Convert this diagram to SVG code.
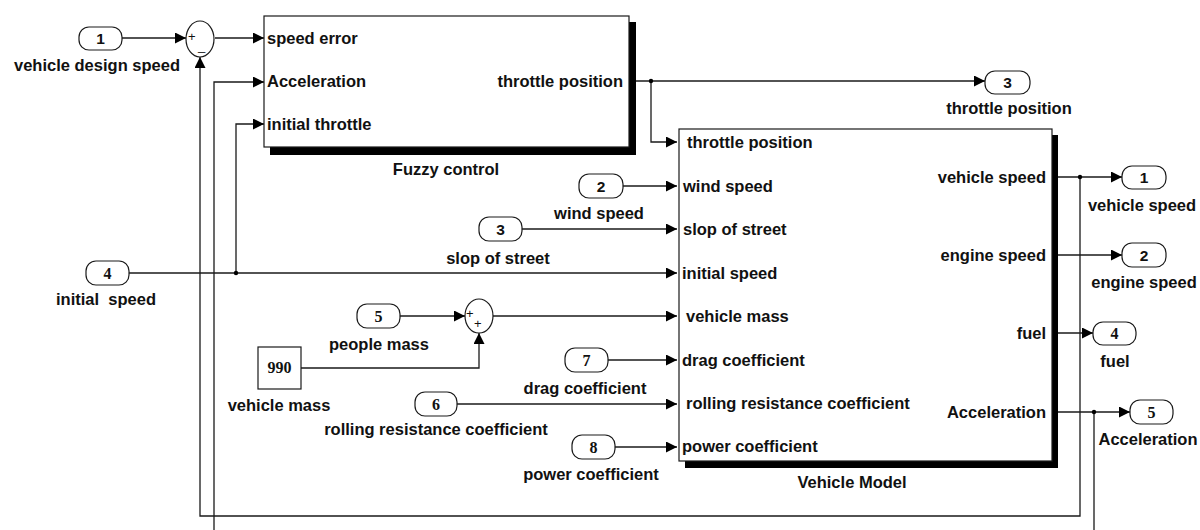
<svg xmlns="http://www.w3.org/2000/svg" width="1200" height="530" viewBox="0 0 1200 530">
<style>
.ln{stroke:#1a1a1a;stroke-width:1.3;fill:none}
.arr{marker-end:url(#ah)}
.port{fill:#fff;stroke:#1a1a1a;stroke-width:1.2}
.blk{fill:#fff;stroke:#1a1a1a;stroke-width:1.2}
.sh{fill:#000}
.t{font-family:"Liberation Sans",Arial,sans-serif;font-weight:bold;font-size:16.5px;fill:#111}
.n{font-family:"Liberation Sans",Arial,sans-serif;font-weight:bold;font-size:15.5px;fill:#111;text-anchor:middle}
.ns{font-family:"Liberation Serif","Times New Roman",serif;font-weight:bold;font-size:16px;fill:#111;text-anchor:middle}
.c{text-anchor:middle}
.r{text-anchor:end}
.sg{font-family:"Liberation Sans",Arial,sans-serif;font-size:13px;fill:#111}
</style>
<defs>
<marker id="ah" markerUnits="userSpaceOnUse" markerWidth="13" markerHeight="12" refX="11" refY="5.5" orient="auto">
<path d="M0,0 L11,5.5 L0,11 z" fill="#000"/>
</marker>
</defs>
<rect width="1200" height="530" fill="#fff"/>

<g id="connectors">
<path class="ln arr" d="M122,38 H186"/>
<path class="ln arr" d="M215,38 H264"/>
<path class="ln arr" d="M1094,412 V545 H214 V82 H264"/>
<path class="ln arr" d="M1080,177 V516 H200 V57"/>
<path class="ln arr" d="M129,273 H677"/>
<path class="ln arr" d="M236,273 V124 H264"/>
<path class="ln arr" d="M636,81 H985"/>
<path class="ln arr" d="M651,81 V142 H677"/>
<path class="ln arr" d="M623,186 H677"/>
<path class="ln arr" d="M522,229 H677"/>
<path class="ln arr" d="M400,316 H465"/>
<path class="ln arr" d="M493,316 H677"/>
<path class="ln arr" d="M301,368 H479 V333"/>
<path class="ln arr" d="M608,360 H677"/>
<path class="ln arr" d="M457,404 H677"/>
<path class="ln arr" d="M615,447 H677"/>
<path class="ln arr" d="M1058,177 H1122"/>
<path class="ln arr" d="M1058,255 H1122"/>
<path class="ln arr" d="M1058,333 H1093"/>
<path class="ln arr" d="M1058,412 H1130"/>
<circle cx="236" cy="273" r="2.2" fill="#000"/>
<circle cx="651" cy="81" r="2.2" fill="#000"/>
<circle cx="1080" cy="177" r="2.2" fill="#000"/>
<circle cx="1094" cy="412" r="2.2" fill="#000"/>
</g>

<g id="in1">
<rect class="port" x="79" y="27" width="43" height="23" rx="10"/>
<text class="n" x="100.5" y="44">1</text>
<text class="t c" x="97" y="71">vehicle design speed</text>
</g>

<g id="sum1">
<ellipse class="port" cx="200" cy="39" rx="14" ry="18"/>
<text class="sg" x="188" y="41">+</text>
<text class="sg" x="198" y="50">_</text>
</g>

<g id="fuzzy">
<rect class="sh" x="270" y="22" width="366" height="133"/>
<rect class="blk" x="264" y="16" width="365" height="131"/>
<text class="t" x="267" y="44">speed error</text>
<text class="t" x="267" y="87">Acceleration</text>
<text class="t" x="267" y="130">initial throttle</text>
<text class="t r" x="623" y="87">throttle position</text>
<text class="t c" x="446" y="175">Fuzzy control</text>
</g>

<g id="out3">
<rect class="port" x="985" y="71" width="45" height="23" rx="10"/>
<text class="n" x="1007.5" y="88">3</text>
<text class="t c" x="1009" y="114">throttle position</text>
</g>

<g id="in2">
<rect class="port" x="579" y="174" width="44" height="24" rx="10"/>
<text class="n" x="601" y="191.5">2</text>
<text class="t c" x="599" y="219">wind speed</text>
</g>

<g id="in3">
<rect class="port" x="479" y="217" width="43" height="24" rx="10"/>
<text class="n" x="500.5" y="234.5">3</text>
<text class="t c" x="498" y="264">slop of street</text>
</g>

<g id="in4">
<rect class="port" x="86" y="261" width="43" height="24" rx="10"/>
<text class="ns" x="107.5" y="278.5">4</text>
<text class="t c" x="106" y="305" xml:space="preserve">initial  speed</text>
</g>

<g id="in5">
<rect class="port" x="357" y="304" width="43" height="24" rx="10"/>
<text class="ns" x="378.5" y="321.5">5</text>
<text class="t c" x="379" y="350">people mass</text>
</g>

<g id="sum2">
<ellipse class="port" cx="479" cy="316" rx="14" ry="17"/>
<text class="sg" x="466" y="318">+</text>
<text class="sg" x="474" y="328">+</text>
</g>

<g id="const990">
<rect class="port" x="258" y="347" width="43" height="42"/>
<text class="ns" x="279.5" y="373">990</text>
<text class="t c" x="279" y="411">vehicle mass</text>
</g>

<g id="in7">
<rect class="port" x="565" y="348" width="43" height="24" rx="10"/>
<text class="ns" x="586.5" y="365.5">7</text>
<text class="t c" x="585" y="394">drag coefficient</text>
</g>

<g id="in6">
<rect class="port" x="415" y="392" width="42" height="24" rx="10"/>
<text class="ns" x="436" y="409.5">6</text>
<text class="t c" x="436" y="435">rolling resistance coefficient</text>
</g>

<g id="in8">
<rect class="port" x="572" y="435" width="43" height="24" rx="10"/>
<text class="ns" x="593.5" y="452.5">8</text>
<text class="t c" x="591" y="480">power coefficient</text>
</g>

<g id="vehicle">
<rect class="sh" x="685" y="135" width="373" height="333"/>
<rect class="blk" x="679" y="129" width="373" height="332"/>
<text class="t" x="687" y="148">throttle position</text>
<text class="t" x="683" y="192">wind speed</text>
<text class="t" x="683" y="235">slop of street</text>
<text class="t" x="682" y="279">initial speed</text>
<text class="t" x="686" y="322">vehicle mass</text>
<text class="t" x="682" y="366">drag coefficient</text>
<text class="t" x="686" y="409">rolling resistance coefficient</text>
<text class="t" x="682" y="452">power coefficient</text>
<text class="t r" x="1046" y="183">vehicle speed</text>
<text class="t r" x="1046" y="261">engine speed</text>
<text class="t r" x="1046" y="339">fuel</text>
<text class="t r" x="1046" y="418">Acceleration</text>
<text class="t c" x="852" y="488">Vehicle Model</text>
</g>

<g id="out1">
<rect class="port" x="1122" y="166" width="44" height="23" rx="10"/>
<text class="n" x="1144" y="183">1</text>
<text class="t c" x="1142" y="211">vehicle speed</text>
</g>

<g id="out2">
<rect class="port" x="1122" y="243" width="44" height="24" rx="10"/>
<text class="n" x="1144" y="260.5">2</text>
<text class="t c" x="1144" y="288">engine speed</text>
</g>

<g id="out4">
<rect class="port" x="1093" y="322" width="43" height="23" rx="10"/>
<text class="ns" x="1114.5" y="338.5">4</text>
<text class="t c" x="1115" y="367">fuel</text>
</g>

<g id="out5">
<rect class="port" x="1130" y="400" width="43" height="24" rx="10"/>
<text class="ns" x="1151.5" y="417.5">5</text>
<text class="t c" x="1148" y="445">Acceleration</text>
</g>
</svg>
